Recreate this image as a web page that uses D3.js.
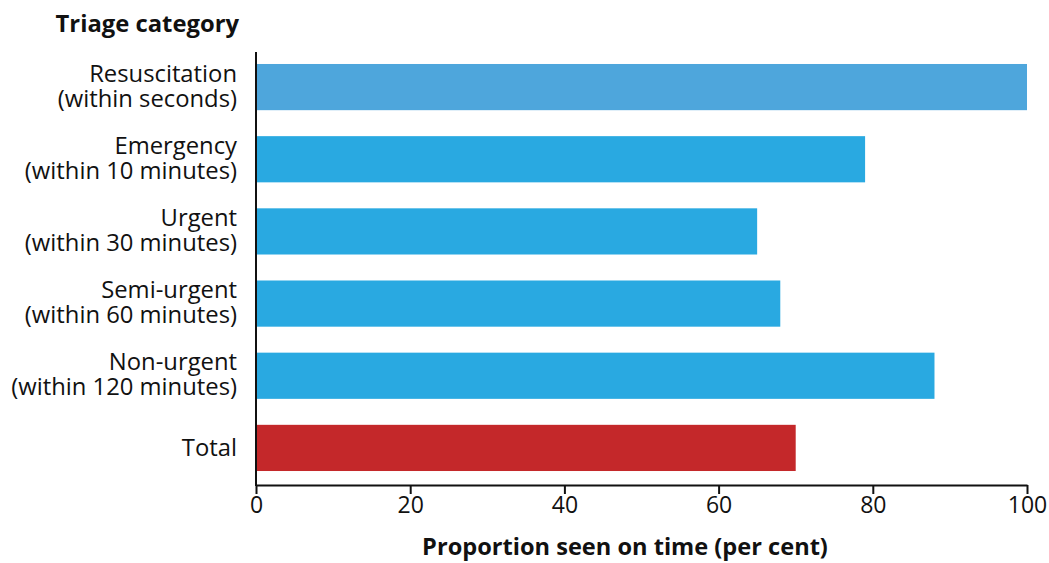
<!DOCTYPE html>
<html><head><meta charset="utf-8">
<script src="https://cdn.jsdelivr.net/npm/d3@7"></script>
<style>body{margin:0;background:#fff}svg{display:block}text{font-family:"Open Sans",sans-serif;fill:#111}</style>
</head><body><svg id="c" width="1049" height="563"></svg>
<script>
const categories = ["Resuscitation|(within seconds)","Emergency |(within 10 minutes)","Urgent|(within 30 minutes)","Semi-urgent|(within 60 minutes)","Non-urgent|(within 120 minutes)","Total"];
const values = [100, 79, 65, 68, 88, 70];
const colors = ["#4ea6dc","#29a9e1","#29a9e1","#29a9e1","#29a9e1","#c4282a"];
const xTicks = [0,20,40,60,80,100];

const svg = d3.select("#c");
const x = d3.scaleLinear().domain([0,100]).range([256,1027]);
const y = d3.scaleBand().domain(categories).range([51,484]).paddingInner(0.36).paddingOuter(0.18);

svg.selectAll("rect.bar").data(categories).join("rect")
  .attr("x", x(0)).attr("y", d=>y(d)).attr("width", (d,i)=>x(values[i])-x(0))
  .attr("height", y.bandwidth()).attr("fill",(d,i)=>colors[i]);

const xa = svg.append("g").attr("transform","translate(0,485)")
  .call(d3.axisBottom(x).tickValues(xTicks).tickSize(9).tickSizeOuter(0).tickPadding(3));
xa.select(".domain").attr("stroke","#111").attr("stroke-width",2);
xa.selectAll(".tick line").attr("stroke","#111").attr("stroke-width",2);
xa.selectAll(".tick text").attr("font-size",23).attr("font-family","Open Sans").attr("fill","#111");

svg.append("line").attr("x1",256).attr("x2",256).attr("y1",52).attr("y2",486).attr("stroke","#111").attr("stroke-width",2);

categories.forEach((c,i)=>{
  const lines = c.split("|");
  const cy = y(c)+y.bandwidth()/2;
  if (lines.length === 1) {
    svg.append("text").attr("text-anchor","end").attr("font-size",23.8)
      .attr("x",237).attr("y",cy+8).text(lines[0]);
  } else {
    lines.forEach((l,j)=>{
      svg.append("text").attr("text-anchor","end").attr("font-size",23.8)
        .attr("x",237).attr("y", cy - 5.3 + j*25).text(l);
    });
  }
});

svg.append("text").attr("x",239).attr("y",32).attr("text-anchor","end").attr("font-size",23.8).attr("font-weight","bold").text("Triage category");
svg.append("text").attr("x",625).attr("y",555).attr("text-anchor","middle").attr("font-size",23.6).attr("font-weight","bold").text("Proportion seen on time (per cent)");
</script></body></html>
